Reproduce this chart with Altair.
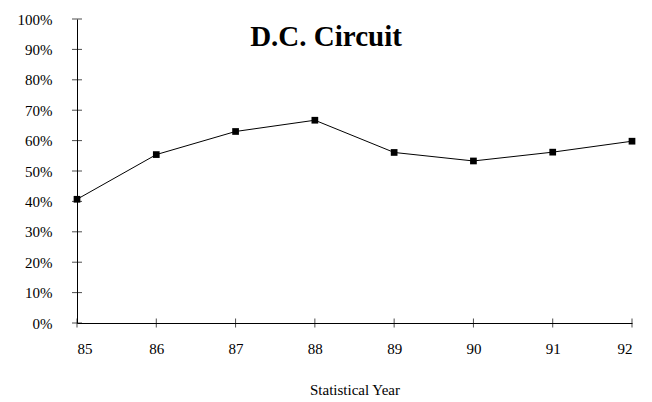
import altair as alt
import pandas as pd

years = [85, 86, 87, 88, 89, 90, 91, 92]
share = [40.7, 55.4, 63.0, 66.7, 56.1, 53.3, 56.2, 59.8]
y_ticks = [0, 10, 20, 30, 40, 50, 60, 70, 80, 90, 100]
title_text = "D.C. Circuit"
x_title = "Statistical Year"

FONT = "Liberation Serif"

df = pd.DataFrame({"year": years, "share": share})
ytick_df = pd.DataFrame({"year": [years[0]] * len(y_ticks), "share": y_ticks})
xtick_df = pd.DataFrame({"year": years, "share": [0] * len(years)})

xscale = alt.Scale(domain=[years[0], years[-1]], nice=False, zero=False)
yscale = alt.Scale(domain=[0, 100], nice=False)

x_axis = alt.Axis(
    values=years,
    format="d",
    grid=False,
    ticks=False,
    labelOverlap=False,
    domainColor="black",
    domainWidth=1,
    labelFont=FONT,
    labelFontSize=15,
    labelColor="black",
    labelPadding=18,
    titleFont=FONT,
    titleFontSize=15,
    titleFontWeight="normal",
    titleColor="black",
    titlePadding=26,
)
y_axis = alt.Axis(
    values=y_ticks,
    labelExpr="datum.value + '%'",
    labelOverlap=False,
    grid=False,
    ticks=False,
    domainColor="black",
    domainWidth=1,
    labelFont=FONT,
    labelFontSize=15,
    labelColor="black",
    labelPadding=25,
)


def enc(ch):
    return ch.encode(
        x=alt.X("year:Q", scale=xscale, title=x_title, axis=x_axis),
        y=alt.Y("share:Q", scale=yscale, title=None, axis=y_axis),
    )


line = enc(alt.Chart(df).mark_line(color="black", strokeWidth=1))
pts = enc(alt.Chart(df).mark_point(
    shape="square", filled=True, color="black", size=45, opacity=1
))
yticks = enc(alt.Chart(ytick_df).mark_tick(
    color="black", orient="horizontal", size=10, thickness=1
))
xticks = enc(alt.Chart(xtick_df).mark_tick(
    color="black", orient="vertical", size=9, thickness=1
))

title = alt.Chart(pd.DataFrame({"t": [title_text]})).mark_text(
    font=FONT, fontSize=29, fontWeight="bold", color="black",
    align="center", baseline="alphabetic"
).encode(x=alt.value(249), y=alt.value(27), text="t:N")

chart = alt.layer(line, yticks, xticks, pts, title).properties(
    width=555,
    height=304,
    autosize=alt.AutoSizeParams(type="none"),
    padding={"left": 69, "top": 11, "right": 12, "bottom": 80},
    background="white",
).configure_view(stroke=None)

chart.save("out.html", embed_options={"renderer": "svg", "actions": False})
